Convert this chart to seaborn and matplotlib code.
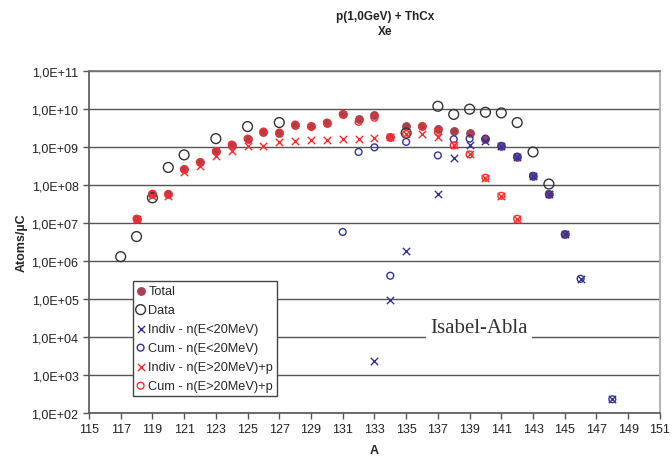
import numpy as np
import pandas as pd
import matplotlib
matplotlib.use('Agg')
import matplotlib.pyplot as plt
import seaborn as sns
from matplotlib.ticker import FuncFormatter, FixedLocator, NullLocator

sns.set_theme(style='white')
plt.rcParams['font.family'] = ['Liberation Sans', 'DejaVu Sans']

# values (atoms per microcoulomb)
total_a = [118, 119, 120, 121, 122, 123, 124, 125, 126, 127, 128, 129, 130, 131,
           132, 133, 134, 135, 136, 137, 138, 139, 140, 141, 142, 143, 144, 145]
total_v = [1.3e7, 5.9e7, 5.8e7, 2.6e8, 4.0e8, 7.7e8, 1.16e9, 1.66e9, 2.55e9, 2.4e9,
           3.9e9, 3.5e9, 4.4e9, 7.3e9, 5.4e9, 6.9e9, 1.8e9, 3.5e9, 3.5e9, 3.05e9,
           2.7e9, 2.3e9, 1.66e9, 1.07e9, 5.6e8, 1.74e8, 5.7e7, 5.0e6]

data_a = [117, 118, 119, 120, 121, 123, 125, 127, 135, 137, 138, 139, 140, 141, 142, 143, 144]
data_v = [1.3e6, 4.4e6, 4.6e7, 2.9e8, 6.2e8, 1.66e9, 3.45e9, 4.4e9, 2.35e9, 1.18e10,
          7.2e9, 9.9e9, 8.2e9, 7.9e9, 4.4e9, 7.4e8, 1.06e8]

indiv_lo_a = [133, 134, 135, 137, 138, 139, 140, 141, 142, 143, 144, 145, 146, 148]
indiv_lo_v = [2.3e3, 9.6e4, 1.86e6, 5.9e7, 5.2e8, 1.16e9, 1.45e9, 1.07e9, 5.6e8,
              1.74e8, 5.7e7, 5.0e6, 3.4e5, 2.3e2]

cum_lo_a = [131, 132, 133, 134, 135, 137, 138, 139, 140, 141, 142, 143, 144, 145, 146, 148]
cum_lo_v = [5.8e6, 7.4e8, 9.8e8, 4.1e5, 1.36e9, 6.0e8, 1.6e9, 1.66e9, 1.66e9, 1.07e9,
            5.6e8, 1.74e8, 5.7e7, 5.0e6, 3.4e5, 2.3e2]

indiv_hi_a = [118, 119, 120, 121, 122, 123, 124, 125, 126, 127, 128, 129, 130, 131,
              132, 133, 134, 135, 136, 137, 138, 139, 140, 141, 142]
indiv_hi_v = [1.3e7, 5.0e7, 5.0e7, 2.2e8, 3.2e8, 5.8e8, 7.9e8, 1.07e9, 1.07e9, 1.36e9,
              1.4e9, 1.5e9, 1.5e9, 1.6e9, 1.66e9, 1.74e9, 1.8e9, 2.2e9, 2.2e9, 1.86e9,
              1.1e9, 6.4e8, 1.55e8, 5.2e7, 1.29e7]

cum_hi_a = [118, 119, 120, 121, 122, 123, 124, 125, 126, 127, 128, 129, 130, 131,
            132, 133, 134, 135, 136, 137, 138, 139, 140, 141, 142]
cum_hi_v = [1.3e7, 5.9e7, 5.8e7, 2.6e8, 4.0e8, 7.7e8, 1.16e9, 1.66e9, 2.55e9, 2.4e9,
            3.9e9, 3.5e9, 4.4e9, 7.3e9, 4.6e9, 5.9e9, 1.8e9, 2.2e9, 3.5e9, 2.5e9,
            1.1e9, 6.4e8, 1.55e8, 5.2e7, 1.29e7]

fig, ax = plt.subplots(figsize=(6.72, 4.6), dpi=100)
fig.subplots_adjust(left=0.1324, right=0.982, bottom=0.1, top=0.8435)

blue = '#33339a'
red = '#ff2a2a'

# Total: filled dots
sns.scatterplot(x=total_a, y=total_v, ax=ax, marker='o', s=34, color='#a8404f',
                edgecolor='#a8404f', linewidth=0.5, label='Total', zorder=3)
# Data: large open black circles
sns.scatterplot(x=data_a, y=data_v, ax=ax, marker='o', s=50, facecolor='none',
                edgecolor='#333333', linewidth=1.0, label='Data', zorder=3)
sns.scatterplot(x=indiv_lo_a, y=indiv_lo_v, ax=ax, marker='x', s=28, color=blue,
                linewidth=1.0, label='Indiv - n(E<20MeV)', zorder=4)
sns.scatterplot(x=cum_lo_a, y=cum_lo_v, ax=ax, marker='o', s=24, facecolor='none',
                edgecolor=blue, linewidth=1.0, label='Cum - n(E<20MeV)', zorder=4)
sns.scatterplot(x=indiv_hi_a, y=indiv_hi_v, ax=ax, marker='x', s=28, color=red,
                linewidth=1.0, label='Indiv - n(E>20MeV)+p', zorder=4)
sns.scatterplot(x=cum_hi_a, y=cum_hi_v, ax=ax, marker='o', s=24, facecolor='none',
                edgecolor=red, linewidth=1.0, label='Cum - n(E>20MeV)+p', zorder=4)

ax.set_yscale('log')
ax.set_ylim(1e2, 1e11)
ax.set_xlim(115, 151)
ax.xaxis.set_major_locator(FixedLocator(np.arange(115, 152, 2)))
ax.yaxis.set_major_locator(FixedLocator([10.0 ** k for k in range(2, 12)]))
ax.yaxis.set_minor_locator(NullLocator())
ax.yaxis.set_major_formatter(FuncFormatter(
    lambda v, p: '1,0E+%02d' % int(round(np.log10(v)))))
ax.tick_params(axis='both', labelsize=9, colors='#222222', length=4, width=1,
               direction='out', bottom=True, left=True)
ax.tick_params(axis='both', color='#555555')

ax.grid(axis='y', color='#555555', linewidth=1.0)
ax.grid(axis='x', visible=False)
ax.set_axisbelow(True)
for side in ['left', 'bottom']:
    ax.spines[side].set_color('#555555')
    ax.spines[side].set_linewidth(1.2)
ax.spines['top'].set_color('#777777')
ax.spines['right'].set_color('#b0a8a8')

ax.set_xlabel('A', fontsize=9, fontweight='bold', labelpad=6)
ax.set_ylabel('Atoms/µC', fontsize=9, fontweight='bold', labelpad=3)

fig.text(0.573, 0.946, 'p(1,0GeV) + ThCx\nXe', ha='center', va='center',
         fontsize=8.5, fontweight='bold', color='#222222', linespacing=1.3)

ax.text(139.6, 1.8e4, 'Isabel-Abla', ha='center', va='center', fontsize=15,
        family='Liberation Serif', color='#333333', zorder=5,
        bbox=dict(facecolor='white', edgecolor='none', pad=3))

leg = ax.legend(loc='lower left', bbox_to_anchor=(0.077, 0.05), fontsize=9.2,
                frameon=True, fancybox=False, edgecolor='#444444',
                framealpha=1, borderpad=0.3, labelspacing=0.55,
                handlelength=0.6, handletextpad=0.3, borderaxespad=0)
leg.get_frame().set_linewidth(1.0)
leg.set_zorder(6)

fig.savefig('out.png', dpi=100)
